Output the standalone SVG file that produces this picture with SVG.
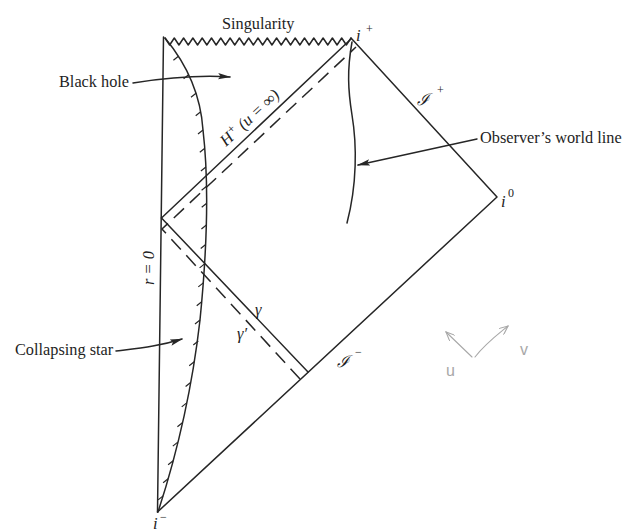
<svg xmlns="http://www.w3.org/2000/svg" width="632" height="532" viewBox="0 0 632 532">
<style>
.ln{fill:none;stroke:#262626;stroke-width:1.5;stroke-linejoin:round;stroke-linecap:round}
.ds{fill:none;stroke:#262626;stroke-width:1.5;stroke-dasharray:14 8}
.tk{fill:none;stroke:#262626;stroke-width:1.2}
.lb{font-family:"Liberation Serif","DejaVu Serif",serif;font-size:16.3px;fill:#1e1e1e}
.it{font-family:"Liberation Serif","DejaVu Serif",serif;font-size:16.5px;font-style:italic;fill:#1e1e1e}
.sup{font-family:"Liberation Serif","DejaVu Serif",serif;font-size:12px;fill:#1e1e1e}
.pen{fill:none;stroke:#a8a8a8;stroke-width:1.1;stroke-linecap:round}
</style>
<defs>
<marker id="ah" markerWidth="13" markerHeight="8" refX="12" refY="4" orient="auto" markerUnits="userSpaceOnUse">
<path d="M0,0.8 L13,4 L0,7.2 L2.5,4 Z" fill="#262626"/>
</marker>
<marker id="ahp" markerWidth="10" markerHeight="8" refX="9" refY="4" orient="auto" markerUnits="userSpaceOnUse">
<path d="M0,0 L9,4 L0,8" fill="none" stroke="#a8a8a8" stroke-width="1.1"/>
</marker>
</defs>
<rect width="632" height="532" fill="#ffffff"/>

<g id="boundary">
<path class="ln" d="M163.5,37 L157.5,512"/>
<path class="ln" d="M351,38 L497,197 L157.5,512"/>
</g>

<g id="singularity">
<polyline class="ln" points="165,38 169.65,45 174.3,38 178.95,45 183.6,38 188.25,45 192.9,38 197.55,45 202.2,38 206.85,45 211.5,38 216.15,45 220.8,38 225.45,45 230.1,38 234.75,45 239.4,38 244.05,45 248.7,38 253.35,45 258,38 262.65,45 267.3,38 271.95,45 276.6,38 281.25,45 285.9,38 290.55,45 295.2,38 299.85,45 304.5,38 309.15,45 313.8,38 318.45,45 323.1,38 327.75,45 332.4,38 337.05,45 341.7,38 346.35,45 351,38"/>
</g>

<g id="star">
<path class="ln" d="M158,512 C175,460 192,390 200,320 C206,260 210,190 203,130 C201,100 190,68 165,38"/>
<path class="tk" d="M163.1,495.9 l-5,4 M168.1,478.7 l-5,4 M173.1,460.8 l-5,4 M177.8,442.1 l-5,4 M182.4,422.8 l-5,4 M186.7,402.9 l-5,4 M190.6,382.5 l-5,4 M194.2,361.8 l-5,4 M198.3,341 l-5,4 M200,320 l-5,4 M201.7,301.7 l-5,4 M203.3,282.9 l-5,4 M204.6,263.9 l-5,4 M205.7,244.5 l-5,4 M206.4,225 l-5,4 M206.7,203.2 l-5,4 M206.6,186.2 l-5,4 M205.9,167 l-5,4 M204.8,148.3 l-5,4 M203,130 l-5,4 M200.7,111.8 l-5,4 M196,93.3 l-5,4 M188.6,74.7 l-5,4 M178.4,56.2 l-5,4"/>
</g>

<g id="horizon">
<path class="ln" d="M161.5,218 L351,39"/>
</g>

<g id="ray-gamma">
<path class="ln" d="M161.5,218 L308,372"/>
</g>

<g id="ray-gamma-prime">
<path class="ds" d="M300,379 L162,229 L356,47"/>
</g>

<g id="observer">
<path class="ln" d="M352,42 C347,70 348,90 352,115 C357,145 357,185 347,223"/>
</g>

<g id="connectors">
<path class="ln" d="M133,83 C165,78 200,75 230,77" marker-end="url(#ah)"/>
<path class="ln" d="M116,351 C140,348 160,346 182,339" marker-end="url(#ah)"/>
<path class="ln" d="M477,139 L358,165" marker-end="url(#ah)"/>
</g>

<g id="labels">
<text class="lb" x="222" y="29">Singularity</text>
<text class="lb" x="59" y="87">Black hole</text>
<text class="lb" x="480" y="143">Observer’s world line</text>
<text class="lb" x="15" y="355">Collapsing star</text>
<text class="it" x="356" y="41">i</text><text class="sup" x="366" y="33">+</text>
<text class="it" x="501" y="207">i</text><text class="sup" x="508" y="197">0</text>
<text class="it" x="153" y="529">i</text><text class="sup" x="160" y="521">−</text>
<text class="it" x="417" y="105" font-size="17">ℐ</text><text class="sup" x="437" y="94">+</text>
<text class="it" x="337" y="367" font-size="17">ℐ</text><text class="sup" x="355" y="356">−</text>
<text class="it" x="255" y="315">γ</text>
<text class="it" x="237" y="339">γ′</text>
<text class="it" transform="translate(154,285) rotate(-90)">r = 0</text>
<text class="it" transform="translate(226,147) rotate(-43)">H<tspan class="sup" dy="-6">+</tspan><tspan dy="6"> (u = ∞)</tspan></text>
</g>

<g id="pencil">
<path class="pen" d="M472,357 L446,332" marker-end="url(#ahp)"/>
<path class="pen" d="M475,357 C485,344 497,335 508,326" marker-end="url(#ahp)"/>
<text x="446" y="376" font-family="Liberation Sans, sans-serif" font-size="16" fill="#a8a8a8">u</text>
<text x="520" y="355" font-family="Liberation Sans, sans-serif" font-size="16" fill="#a8a8a8">v</text>
</g>
</svg>
